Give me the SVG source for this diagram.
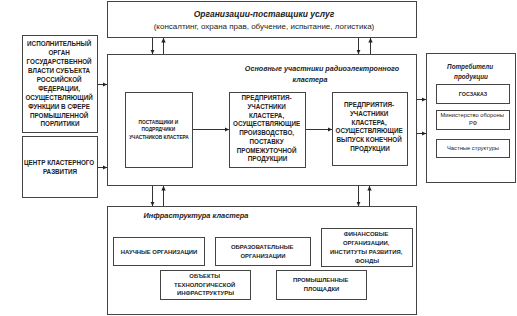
<svg xmlns="http://www.w3.org/2000/svg" width="517" height="316" viewBox="0 0 517 316">
<defs>
<marker id="ah" markerWidth="5" markerHeight="5" refX="4.5" refY="2.5" orient="auto" markerUnits="userSpaceOnUse">
<path d="M0,0.3 L4.5,2.5 L0,4.7 Z" fill="#222"/>
</marker>
</defs>
<style>
.box{fill:#fff;stroke:#444;stroke-width:1}
.t{font-family:"Liberation Sans",Arial,sans-serif;font-weight:bold;fill:#222;text-anchor:middle}
.ti{font-family:"Liberation Sans",Arial,sans-serif;font-weight:bold;font-style:italic;fill:#222;text-anchor:middle}
.tr{font-family:"Liberation Sans",Arial,sans-serif;fill:#222;text-anchor:middle}
.c{stroke:#333;stroke-width:1;fill:none;marker-end:url(#ah)}
</style>
<rect width="517" height="316" fill="#fff"/>

<g id="suppliers-services">
<rect class="box" x="107.5" y="1.5" width="309" height="36"/>
<text class="ti" x="264" y="17" font-size="8.5">Организации-поставщики услуг</text>
<text class="tr" x="264" y="28.5" font-size="8">(консалтинг, охрана прав, обучение, испытание, логистика)</text>
</g>

<g id="exec-organ">
<rect class="box" x="22.5" y="35.5" width="75" height="97"/>
<text class="t" font-size="6.3" x="60">
<tspan x="60" y="46.3">ИСПОЛНИТЕЛЬНЫЙ</tspan>
<tspan x="60" y="55.2">ОРГАН</tspan>
<tspan x="60" y="64.1">ГОСУДАРСТВЕННОЙ</tspan>
<tspan x="60" y="73">ВЛАСТИ СУБЪЕКТА</tspan>
<tspan x="60" y="81.9">РОССИЙСКОЙ</tspan>
<tspan x="60" y="90.8">ФЕДЕРАЦИИ,</tspan>
<tspan x="60" y="99.7">ОСУЩЕСТВЛЯЮЩИЙ</tspan>
<tspan x="60" y="108.6">ФУНКЦИИ В СФЕРЕ</tspan>
<tspan x="60" y="117.5">ПРОМЫШЛЕННОЙ</tspan>
<tspan x="60" y="126.4">ПОРЛИТИКИ</tspan>
</text>
</g>

<g id="cluster-center">
<rect class="box" x="22.5" y="136.5" width="75" height="61"/>
<text class="t" font-size="6.3" x="60">
<tspan x="60" y="165.3">ЦЕНТР КЛАСТЕРНОГО</tspan>
<tspan x="60" y="173.6">РАЗВИТИЯ</tspan>
</text>
</g>

<g id="main-participants">
<rect class="box" x="107.5" y="54.5" width="309" height="131"/>
<text class="ti" x="322" y="70.5" font-size="7.2">Основные участники радиоэлектронного</text>
<text class="ti" x="310" y="81.5" font-size="7.2">кластера</text>
</g>

<g id="suppliers-contractors">
<rect class="box" x="125.5" y="92.5" width="67" height="75"/>
<text class="t" font-size="4.8" x="159">
<tspan x="159" y="123.6">ПОСТАВЩИКИ И</tspan>
<tspan x="159" y="131.1">ПОДРЯДЧИКИ</tspan>
<tspan x="159" y="138.6">УЧАСТНИКОВ КЛАСТЕРА</tspan>
</text>
</g>

<g id="intermediate-enterprises">
<rect class="box" x="229.5" y="92.5" width="76" height="75"/>
<text class="t" font-size="6.3" x="267.5">
<tspan x="267.5" y="100.3">ПРЕДПРИЯТИЯ-</tspan>
<tspan x="267.5" y="109">УЧАСТНИКИ</tspan>
<tspan x="267.5" y="117.7">КЛАСТЕРА,</tspan>
<tspan x="267.5" y="126.4">ОСУЩЕСТВЛЯЮЩИЕ</tspan>
<tspan x="267.5" y="135.1">ПРОИЗВОДСТВО,</tspan>
<tspan x="267.5" y="143.8">ПОСТАВКУ</tspan>
<tspan x="267.5" y="152.5">ПРОМЕЖУТОЧНОЙ</tspan>
<tspan x="267.5" y="161.2">ПРОДУКЦИИ</tspan>
</text>
</g>

<g id="final-enterprises">
<rect class="box" x="332.5" y="92.5" width="75" height="73"/>
<text class="t" font-size="6.3" x="370">
<tspan x="370" y="107.3">ПРЕДПРИЯТИЯ-</tspan>
<tspan x="370" y="116">УЧАСТНИКИ</tspan>
<tspan x="370" y="124.7">КЛАСТЕРА,</tspan>
<tspan x="370" y="133.4">ОСУЩЕСТВЛЯЮЩИЕ</tspan>
<tspan x="370" y="142.1">ВЫПУСК КОНЕЧНОЙ</tspan>
<tspan x="370" y="150.8">ПРОДУКЦИИ</tspan>
</text>
</g>

<g id="consumers">
<rect class="box" x="426.5" y="53.5" width="89" height="129"/>
<text class="ti" font-size="6.3" x="471">
<tspan x="471" y="69">Потребители</tspan>
<tspan x="471" y="78.5">продукции</tspan>
</text>
</g>

<g id="goszakaz">
<rect class="box" x="436.5" y="84.5" width="73" height="19"/>
<text class="t" x="473" y="95.8" font-size="5.3">ГОСЗАКАЗ</text>
</g>

<g id="ministry">
<rect class="box" x="436.5" y="110.5" width="73" height="19"/>
<text class="tr" font-size="5.8" x="473">
<tspan x="473" y="117">Министерство обороны</tspan>
<tspan x="473" y="125">РФ</tspan>
</text>
</g>

<g id="private">
<rect class="box" x="436.5" y="139.5" width="73" height="18"/>
<text class="tr" x="473" y="150" font-size="5.8">Частные структуры</text>
</g>

<g id="infrastructure">
<rect class="box" x="107.5" y="206.5" width="309" height="108"/>
<text class="ti" x="196" y="217.5" font-size="7.4">Инфраструктура кластера</text>
</g>

<g id="science">
<rect class="box" x="113.5" y="237.5" width="91" height="28"/>
<text class="t" x="159" y="254" font-size="5.9">НАУЧНЫЕ ОРГАНИЗАЦИИ</text>
</g>

<g id="education">
<rect class="box" x="215.5" y="237.5" width="95" height="28"/>
<text class="t" font-size="5.9" x="263">
<tspan x="263" y="249">ОБРАЗОВАТЕЛЬНЫЕ</tspan>
<tspan x="263" y="257.5">ОРГАНИЗАЦИИ</tspan>
</text>
</g>

<g id="finance">
<rect class="box" x="321.5" y="228.5" width="91" height="38"/>
<text class="t" font-size="5.9" x="367">
<tspan x="367" y="236.2">ФИНАНСОВЫЕ</tspan>
<tspan x="367" y="245">ОРГАНИЗАЦИИ,</tspan>
<tspan x="367" y="253.8">ИНСТИТУТЫ РАЗВИТИЯ,</tspan>
<tspan x="367" y="262.6">ФОНДЫ</tspan>
</text>
</g>

<g id="tech-infra">
<rect class="box" x="160.5" y="270.5" width="90" height="29"/>
<text class="t" font-size="5.9" x="205.5">
<tspan x="205.5" y="278">ОБЪЕКТЫ</tspan>
<tspan x="205.5" y="286.5">ТЕХНОЛОГИЧЕСКОЙ</tspan>
<tspan x="205.5" y="295">ИНФРАСТРУКТУРЫ</tspan>
</text>
</g>

<g id="industrial-sites">
<rect class="box" x="276.5" y="270.5" width="90" height="29"/>
<text class="t" font-size="5.9" x="321.5">
<tspan x="321.5" y="282">ПРОМЫШЛЕННЫЕ</tspan>
<tspan x="321.5" y="290.5">ПЛОЩАДКИ</tspan>
</text>
</g>

<g id="connectors">
<line class="c" x1="97.5" y1="84.5" x2="107" y2="84.5"/>
<line class="c" x1="97.5" y1="167.5" x2="107" y2="167.5"/>
<line class="c" x1="152.5" y1="38" x2="152.5" y2="54"/>
<line class="c" x1="163.5" y1="54" x2="163.5" y2="38"/>
<line class="c" x1="358.5" y1="38" x2="358.5" y2="54"/>
<line class="c" x1="370.5" y1="54" x2="370.5" y2="38"/>
<line class="c" x1="152.5" y1="186" x2="152.5" y2="206"/>
<line class="c" x1="163.5" y1="206" x2="163.5" y2="186"/>
<line class="c" x1="358.5" y1="186" x2="358.5" y2="206"/>
<line class="c" x1="369.5" y1="206" x2="369.5" y2="186"/>
<line class="c" x1="193" y1="129.5" x2="229" y2="129.5"/>
<line class="c" x1="306" y1="129.5" x2="332" y2="129.5"/>
<line class="c" x1="417" y1="99.5" x2="426" y2="99.5"/>
<line class="c" x1="417" y1="133.5" x2="426" y2="133.5"/>
</g>
</svg>
